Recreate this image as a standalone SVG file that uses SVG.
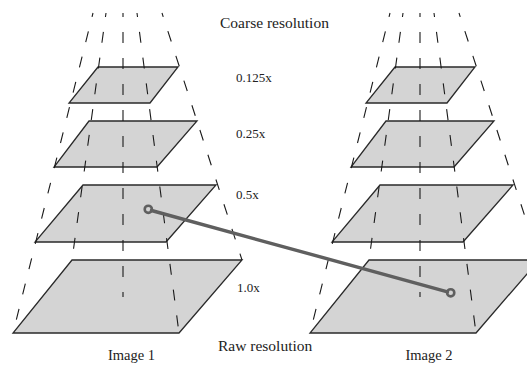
<svg xmlns="http://www.w3.org/2000/svg" width="527" height="365" viewBox="0 0 527 365">
<style>
.layer{fill:#d4d4d4;stroke:#2a2a2a;stroke-width:1.3;stroke-linejoin:miter}
.dash{fill:none;stroke:#1a1a1a;stroke-width:1.1;stroke-dasharray:11 15;stroke-dashoffset:7}
.lbl{font-family:"Liberation Serif","Times New Roman",serif;fill:#222}
.conn{fill:none;stroke:#5f5f5f;stroke-width:3.4;stroke-linecap:round}
.end{fill:none;stroke:#5f5f5f;stroke-width:2.6}
</style>
<defs>
<g id="pyramid">
<polygon class="layer" points="98,67 178,67 150,103 69,103"/>
<polygon class="layer" points="89,121 197,121 157,167 54,167"/>
<polygon class="layer" points="83,185 216,185 166,242 35,242"/>
<polygon class="layer" points="72,260 242,260 179,333 13,333"/>
<line class="dash" x1="93" y1="13" x2="13" y2="333"/>
<line class="dash" x1="106" y1="13" x2="72" y2="260"/>
<line class="dash" x1="123" y1="13" x2="123" y2="297"/>
<line class="dash" x1="137" y1="13" x2="179" y2="333"/>
<line class="dash" x1="162" y1="13" x2="242" y2="260"/>
</g>
</defs>
<g id="image1">
<use href="#pyramid"/>
<text class="lbl" x="131.5" y="360" font-size="14.5" text-anchor="middle">Image 1</text>
</g>
<g id="image2">
<use href="#pyramid" transform="translate(297,0)"/>
<text class="lbl" x="429" y="360" font-size="14.5" text-anchor="middle">Image 2</text>
</g>
<g id="labels">
<text class="lbl" x="220" y="28" font-size="15.5">Coarse resolution</text>
<text class="lbl" x="236" y="82" font-size="13">0.125x</text>
<text class="lbl" x="236" y="138" font-size="13">0.25x</text>
<text class="lbl" x="236" y="199" font-size="13">0.5x</text>
<text class="lbl" x="237" y="292" font-size="13">1.0x</text>
<text class="lbl" x="218" y="351" font-size="15.5">Raw resolution</text>
</g>
<g id="connectors">
<line class="conn" x1="151.5" y1="210.5" x2="447.5" y2="291.8"/>
<circle class="end" cx="148.3" cy="209.3" r="3.6"/>
<circle class="end" cx="450.7" cy="292.8" r="3.6"/>
</g>
</svg>
